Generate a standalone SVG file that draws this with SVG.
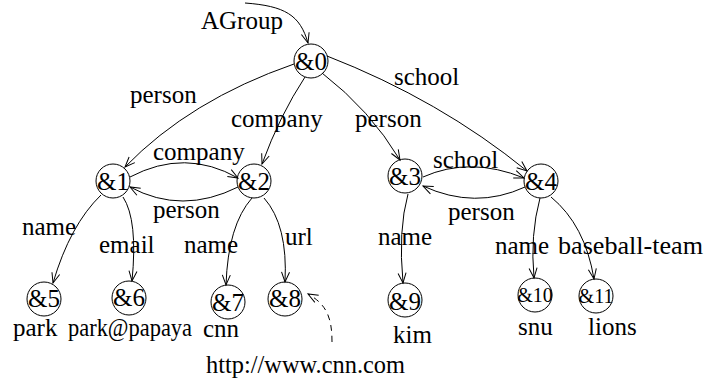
<svg xmlns="http://www.w3.org/2000/svg" width="720" height="381" viewBox="0 0 720 381" font-family="'Liberation Serif', 'Times New Roman', serif">
<defs>
<marker id="arr" markerUnits="userSpaceOnUse" markerWidth="12" markerHeight="10" refX="10" refY="4" orient="auto" overflow="visible">
<path d="M0,0 L10,4 L0,8" fill="none" stroke="#000" stroke-width="1"/>
</marker>
<style>
text{font-family:'Liberation Serif','Times New Roman',serif;font-size:25px;fill:#000}
.n circle{fill:none;stroke:#000;stroke-width:1}
.n text{text-anchor:middle}
.sm{font-size:20px}
.e path{fill:none;stroke:#000;stroke-width:1;marker-end:url(#arr)}
.e .d{stroke-dasharray:6,5}
</style>
</defs>
<rect width="720" height="381" fill="#fff"/>
<g class="e" id="edges">
<path d="M245,3 C285,6 300,15 308,43"/>
<path d="M294,64 Q190,100 125,167"/>
<path d="M305,77 Q280,115 262,164"/>
<path d="M322,73 Q370,110 400,160"/>
<path d="M327,56 Q440,100 527,171"/>
<path d="M130,177 Q185,148 238,178"/>
<path d="M238,187 Q182,215 130,187"/>
<path d="M423,177 Q470,156 524,178"/>
<path d="M525,187 Q475,210 423,186"/>
<path d="M101,195 Q70,225 53,283"/>
<path d="M123,197 Q138,220 132,281"/>
<path d="M252,198 Q228,225 226,285"/>
<path d="M264,198 Q288,225 285,282"/>
<path d="M408,194 Q398,230 403,283"/>
<path d="M540,198 Q530,235 534,278"/>
<path d="M551,197 Q585,225 594,279"/>
<path class="d" d="M332,342 C332,320 328,305 308,294"/>
</g>
<g id="edge-labels">
<text x="201" y="29">AGroup</text>
<text x="130" y="103">person</text>
<text x="231" y="127">company</text>
<text x="355" y="127">person</text>
<text x="394" y="85">school</text>
<text x="153" y="160">company</text>
<text x="153" y="218">person</text>
<text x="433" y="168">school</text>
<text x="448" y="220">person</text>
<text x="22" y="235">name</text>
<text x="99" y="253">email</text>
<text x="184" y="253">name</text>
<text x="285" y="245">url</text>
<text x="378" y="245">name</text>
<text x="495" y="254">name</text>
<text x="558" y="254" textLength="145" lengthAdjust="spacingAndGlyphs">baseball-team</text>
</g>
<g id="n0" class="n"><circle cx="311" cy="61" r="17"/><text x="311" y="70">&amp;0</text></g>
<g id="n1" class="n"><circle cx="113" cy="181" r="17"/><text x="113" y="190">&amp;1</text></g>
<g id="n2" class="n"><circle cx="254" cy="181" r="17"/><text x="254" y="190">&amp;2</text></g>
<g id="n3" class="n"><circle cx="405" cy="176" r="17"/><text x="405" y="185">&amp;3</text></g>
<g id="n4" class="n"><circle cx="541" cy="181" r="17"/><text x="541" y="190">&amp;4</text></g>
<g id="n5" class="n"><circle cx="44" cy="299" r="17"/><text x="44" y="307">&amp;5</text></g>
<g id="n6" class="n"><circle cx="129" cy="298" r="17"/><text x="129" y="306">&amp;6</text></g>
<g id="n7" class="n"><circle cx="228" cy="302" r="17"/><text x="228" y="311">&amp;7</text></g>
<g id="n8" class="n"><circle cx="285" cy="299" r="17"/><text x="285" y="307">&amp;8</text></g>
<g id="n9" class="n"><circle cx="405" cy="300" r="17"/><text x="405" y="310">&amp;9</text></g>
<g id="n10" class="n"><circle cx="535" cy="295" r="17"/><text class="sm" x="535" y="302">&amp;10</text></g>
<g id="n11" class="n"><circle cx="596" cy="296" r="17"/><text class="sm" x="596" y="303">&amp;11</text></g>
<g id="values">
<text x="13" y="336">park</text>
<text x="68" y="336" textLength="124" lengthAdjust="spacingAndGlyphs">park@papaya</text>
<text x="203" y="337">cnn</text>
<text x="206" y="373" textLength="199" lengthAdjust="spacingAndGlyphs">http://www.cnn.com</text>
<text x="393" y="343">kim</text>
<text x="518" y="335">snu</text>
<text x="588" y="335">lions</text>
</g>
</svg>
